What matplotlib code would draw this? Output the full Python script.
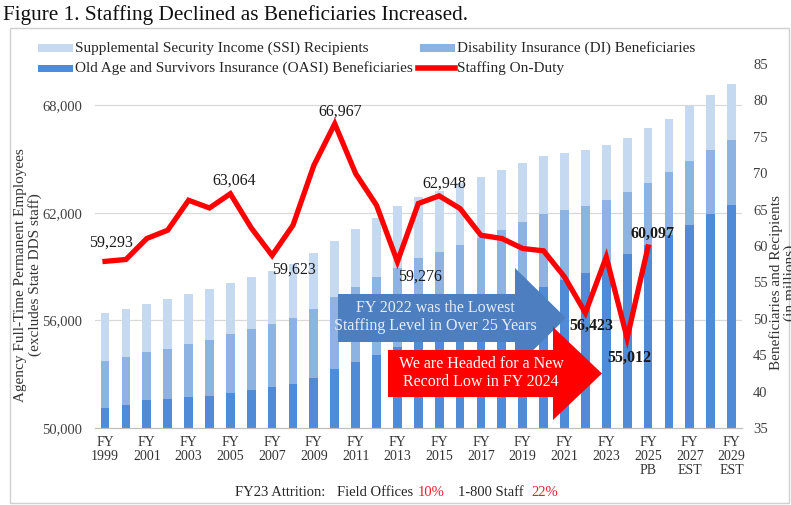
import matplotlib.pyplot as plt
from matplotlib.patches import Polygon, Rectangle
from matplotlib.lines import Line2D

plt.rcParams['font.family'] = ['Liberation Serif', 'DejaVu Serif']

years = list(range(1999, 2030))
# beneficiaries / recipients, millions
oasi = [37.8, 38.1, 38.8, 39.0, 39.2, 39.4, 39.8, 40.2, 40.6, 41.1, 41.9, 43.1, 44.0, 45.0, 46.1, 47.1,
        48.2, 49.2, 50.4, 51.7, 53.0, 54.3, 55.3, 56.3, 57.6, 58.9, 60.2, 61.5, 62.9, 64.4, 65.6]
di = [6.4, 6.6, 6.7, 6.9, 7.3, 7.7, 8.1, 8.4, 8.7, 9.0, 9.4, 9.9, 10.4, 10.8, 10.9, 11.2,
      11.0, 11.0, 10.7, 10.5, 10.3, 10.1, 9.6, 9.2, 8.7, 8.5, 8.5, 8.6, 8.8, 8.8, 9.0]
ssi = [6.6, 6.6, 6.6, 6.8, 6.9, 7.0, 7.0, 7.1, 7.3, 7.4, 7.7, 7.7, 8.0, 8.1, 8.5, 8.4,
       8.4, 8.4, 8.4, 8.2, 8.1, 8.0, 7.9, 7.7, 7.6, 7.5, 7.5, 7.4, 7.5, 7.5, 7.6]

# staffing on-duty, FY1999-FY2025
staff = [59293, 59398, 60570, 61030, 62700, 62270, 63064, 61160, 59623, 61310, 64650, 66967,
         64190, 62420, 59276, 62520, 62948, 62240, 60750, 60570, 60010, 59880, 58430, 56423,
         59540, 55012, 60097]

# labelled points: year -> (dx px, dy px, bold)
labelled = {1999: (6, 19, False), 2005: (4, 13, False), 2007: (22, -14, False),
            2010: (5, 12, False), 2013: (23, -15, False), 2015: (5, 12, False),
            2022: (6, -13, True), 2024: (2, -20, True), 2025: (4, 13, True)}

tick_years = years[::2]
tick_suffix = {2025: "PB", 2027: "EST", 2029: "EST"}

W, H = 791, 505
fig = plt.figure(figsize=(W / 100, H / 100), dpi=100)


def fx(x):
    return x / W


def fy(y):
    return 1 - y / H


ax = fig.add_axes([fx(94.6), fy(428), fx(742) - fx(94.6), fy(64) - fy(428)])
axb = ax.twinx()
ax.set_zorder(2)
ax.patch.set_visible(False)

x = list(range(len(years)))
col_oasi, col_di, col_ssi = '#4f8bd6', '#8db3e2', '#c5d9f1'
bw = 0.42
di_base = [a for a in oasi]
ssi_base = [a + b for a, b in zip(oasi, di)]
axb.bar(x, oasi, bw, color=col_oasi, zorder=2)
axb.bar(x, di, bw, bottom=di_base, color=col_di, zorder=2)
axb.bar(x, ssi, bw, bottom=ssi_base, color=col_ssi, zorder=2)

lo, hi = 50000, 70300
rlo, rhi = 35, 85
ax.set_ylim(lo, hi)
axb.set_ylim(rlo, rhi)
ax.set_xlim(-0.5, len(years) - 0.5)

left_ticks = [50000, 56000, 62000, 68000]
for t in left_ticks[1:]:
    axb.axhline(rlo + (t - lo) / (hi - lo) * (rhi - rlo), color='#d9d9d9', lw=0.9, zorder=1)

sx = x[:len(staff)]
ax.plot(sx, staff, color='#ff0000', lw=3.8, solid_joinstyle='miter', zorder=3)
for yr, (dx, dy, bold) in labelled.items():
    i = years.index(yr)
    ax.annotate(f"{staff[i]:,}", (i, staff[i]), xytext=(dx, dy), textcoords='offset pixels',
                ha='center', va='center', fontsize=11.5, color='#1a1a1a',
                fontweight='bold' if bold else 'normal')

# axes styling
ax.yaxis.tick_left()
ax.set_yticks(left_ticks)
ax.set_yticklabels([f"{t:,}" for t in left_ticks])
ax.tick_params(axis='y', length=0, pad=9, labelsize=10.5, colors='#404040')
axb.set_yticks(range(35, 86, 5))
axb.tick_params(axis='y', length=0, pad=8, labelsize=10.5, colors='#404040')
xt = [years.index(y) for y in tick_years]
xl = [f"FY\n{y}" + (f"\n{tick_suffix[y]}" if y in tick_suffix else "") for y in tick_years]
ax.set_xticks(xt)
ax.set_xticklabels(xl, linespacing=1.1)
ax.tick_params(axis='x', length=0, pad=6, labelsize=10, colors='#333333')
for a in (ax, axb):
    for s in ('top', 'left', 'right'):
        a.spines[s].set_visible(False)
    a.spines['bottom'].set_color('#bfbfbf')

# chart frame
fig.add_artist(Rectangle((fx(10), fy(503)), fx(789) - fx(10), fy(28) - fy(503),
                         transform=fig.transFigure, fill=False, ec='#d0d0d0', lw=1, zorder=0))

fig.text(fx(3), fy(15), "Figure 1. Staffing Declined as Beneficiaries Increased.",
         fontsize=15.3, va='center', ha='left', color='#111111')

# legend
leg_items = [(38, 48, col_ssi, "Supplemental Security Income (SSI) Recipients"),
             (38, 68, col_oasi, "Old Age and Survivors Insurance (OASI) Beneficiaries"),
             (420, 48, col_di, "Disability Insurance (DI) Beneficiaries")]
for lx, ly, c, t in leg_items:
    fig.add_artist(Rectangle((fx(lx), fy(ly + 3.5)), fx(35), 7 / H, transform=fig.transFigure,
                             color=c, lw=0))
    fig.text(fx(lx + 37), fy(ly), t, fontsize=11, va='center', ha='left', color='#262626')
fig.add_artist(Line2D([fx(418), fx(455)], [fy(68), fy(68)], transform=fig.transFigure,
                      color='#ff0000', lw=4))
fig.text(fx(457), fy(68), "Staffing On-Duty", fontsize=11, va='center', ha='left', color='#262626')

# axis titles
fig.text(fx(28), fy(275), "Agency Full-Time Permanent Employees\n(excludes State DDS staff)",
         rotation=90, ha='center', va='center', fontsize=11, color='#333333', linespacing=1.1)
fig.text(fx(783), fy(283), "Beneficiaries and Recipients\n(in millions)",
         rotation=90, ha='center', va='center', fontsize=11, color='#333333', linespacing=1.1)


def arrow(x0, x1, x2, ytop, ybot, htop, hbot, color):
    yc = (ytop + ybot) / 2
    pts = [(x0, ytop), (x1, ytop), (x1, htop), (x2, yc), (x1, hbot), (x1, ybot), (x0, ybot)]
    fig.add_artist(Polygon([(fx(a), fy(b)) for a, b in pts], closed=True,
                           transform=fig.transFigure, color=color, lw=0, zorder=1))


arrow(338, 515, 566, 294, 342, 268, 368, '#4d7fc0')
fig.text(fx(435), fy(317), "FY 2022 was the Lowest\nStaffing Level in Over 25 Years",
         ha='center', va='center', fontsize=11.5, color='#e6ecf5', linespacing=1.15, zorder=3)
arrow(388, 553, 602, 350, 397, 327, 420, '#ff0000')
fig.text(fx(481), fy(373), "We are Headed for a New\nRecord Low in FY 2024",
         ha='center', va='center', fontsize=11.5, color='#ffffff', linespacing=1.15, zorder=3)

# attrition note, laid out piece by piece
note = [("FY23 Attrition:", '#262626', 12), ("Field Offices", '#262626', 4),
        ("10%", '#e8202a', 14), ("1-800 Staff", '#262626', 7), ("22%", '#e8202a', 0)]
renderer = fig.canvas.get_renderer()
pos = 235
for txt, c, gap in note:
    t = fig.text(fx(pos), fy(492), txt, fontsize=10.5, va='center', ha='left', color=c)
    pos += t.get_window_extent(renderer).width + gap

fig.savefig("out.png", dpi=100)
